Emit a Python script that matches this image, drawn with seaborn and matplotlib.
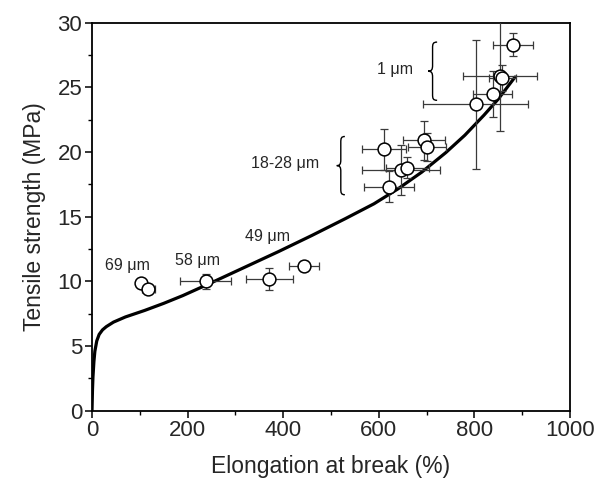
import matplotlib

matplotlib.use("Agg")
import matplotlib.pyplot as plt
from matplotlib.path import Path
from matplotlib.patches import PathPatch
from matplotlib.ticker import MultipleLocator
import pandas as pd
import seaborn as sns

# measured points (elongation %, tensile MPa) with error bars
elongation = [102, 118, 238, 371, 444, 611, 621, 646, 660, 695, 701, 803, 838, 853, 858, 880]
tensile = [9.85, 9.4, 10.0, 10.2, 11.2, 20.2, 17.3, 18.6, 18.8, 20.9, 20.4, 23.7, 24.5, 25.85, 25.7, 28.3]
elong_err = [6, 13, 53, 49, 31, 46, 53, 81, 45, 44, 39, 110, 40, 77, 28, 42]
tensile_err = [0.15, 0.2, 0.58, 0.85, 0.36, 1.57, 1.2, 1.93, 0.8, 1.48, 1.1, 5.0, 1.8, 4.2, 1.0, 0.9]

# model curve
curve_x = [0, 1, 2, 4, 6, 10, 15, 22, 30, 45, 70, 110, 150, 190, 250, 320, 390,
           460, 530, 590, 640, 690, 740, 780, 820, 850, 885]
curve_y = [0, 1.6, 2.6, 3.8, 4.6, 5.4, 5.9, 6.25, 6.5, 6.85, 7.25, 7.75, 8.3, 8.9, 9.9,
           11.1, 12.3, 13.55, 14.85, 16.0, 17.15, 18.45, 19.95, 21.3, 22.85, 24.1, 25.8]

# size labels
label_text = ["1 \u03bcm", "18-28 \u03bcm", "49 \u03bcm", "58 \u03bcm", "69 \u03bcm"]
label_x = [634, 404, 368, 221, 75]
label_y = [26.4, 19.1, 13.45, 11.65, 11.2]

sns.set_theme(style="ticks")
plt.rcParams["font.family"] = ["Liberation Sans", "DejaVu Sans"]


def brace(ax, x, y0, y1, w):
    # left-opening curly brace, tip at x, right side at x + w
    u = lambda a: x + a * w
    v = lambda b: y0 + b * (y1 - y0)
    pts = [
        (u(1), v(1)), (u(0.55), v(1)), (u(0.5), v(0.97)), (u(0.5), v(0.9)),
        (u(0.5), v(0.6)),
        (u(0.5), v(0.53)), (u(0.4), v(0.5)), (u(0), v(0.5)),
        (u(0.4), v(0.5)), (u(0.5), v(0.47)), (u(0.5), v(0.4)),
        (u(0.5), v(0.1)),
        (u(0.5), v(0.03)), (u(0.55), v(0)), (u(1), v(0)),
    ]
    codes = [Path.MOVETO, Path.CURVE4, Path.CURVE4, Path.CURVE4, Path.LINETO,
             Path.CURVE4, Path.CURVE4, Path.CURVE4, Path.CURVE4, Path.CURVE4, Path.CURVE4,
             Path.LINETO, Path.CURVE4, Path.CURVE4, Path.CURVE4]
    ax.add_patch(PathPatch(Path(pts, codes), fill=False, lw=1.0, color="black"))


fig = plt.figure(figsize=(6.01, 4.92), dpi=100)
ax = fig.add_axes([92 / 601, 1 - 410.7 / 492, (570 - 92) / 601, 388 / 492])

pts = pd.DataFrame({"x": elongation, "y": tensile})
cur = pd.DataFrame({"x": curve_x, "y": curve_y})

sns.lineplot(data=cur, x="x", y="y", color="black", lw=2.3, sort=False, ax=ax, zorder=2)
ax.errorbar(elongation, tensile, xerr=elong_err, yerr=tensile_err, fmt="none",
            ecolor="#3a3a3a", elinewidth=0.9, capsize=3, capthick=0.9, zorder=3)
sns.scatterplot(data=pts, x="x", y="y", marker="o", s=85, facecolor="white",
                edgecolor="black", linewidth=1.1, ax=ax, zorder=4)

for t, x, y in zip(label_text, label_x, label_y):
    ax.text(x, y, t, ha="center", va="center", fontsize=11.5)

brace(ax, 703, 24.0, 28.5, 19)
brace(ax, 512, 16.7, 21.2, 17)

ax.set_xlim(0, 1000)
ax.set_ylim(0, 30)
ax.xaxis.set_major_locator(MultipleLocator(200))
ax.xaxis.set_minor_locator(MultipleLocator(100))
ax.yaxis.set_major_locator(MultipleLocator(5))
ax.yaxis.set_minor_locator(MultipleLocator(2.5))
ax.tick_params(which="major", direction="out", length=5, width=1.1, labelsize=16, color="black", pad=2)
ax.tick_params(which="minor", direction="out", length=3, width=1.0, color="black")
for s in ax.spines.values():
    s.set_visible(True)
    s.set_linewidth(1.3)
    s.set_color("black")
ax.set_xlabel("Elongation at break (%)", fontsize=16.5, labelpad=10)
ax.set_ylabel("Tensile strength (MPa)", fontsize=16.5, labelpad=8)

fig.savefig("out.png", dpi=100)
